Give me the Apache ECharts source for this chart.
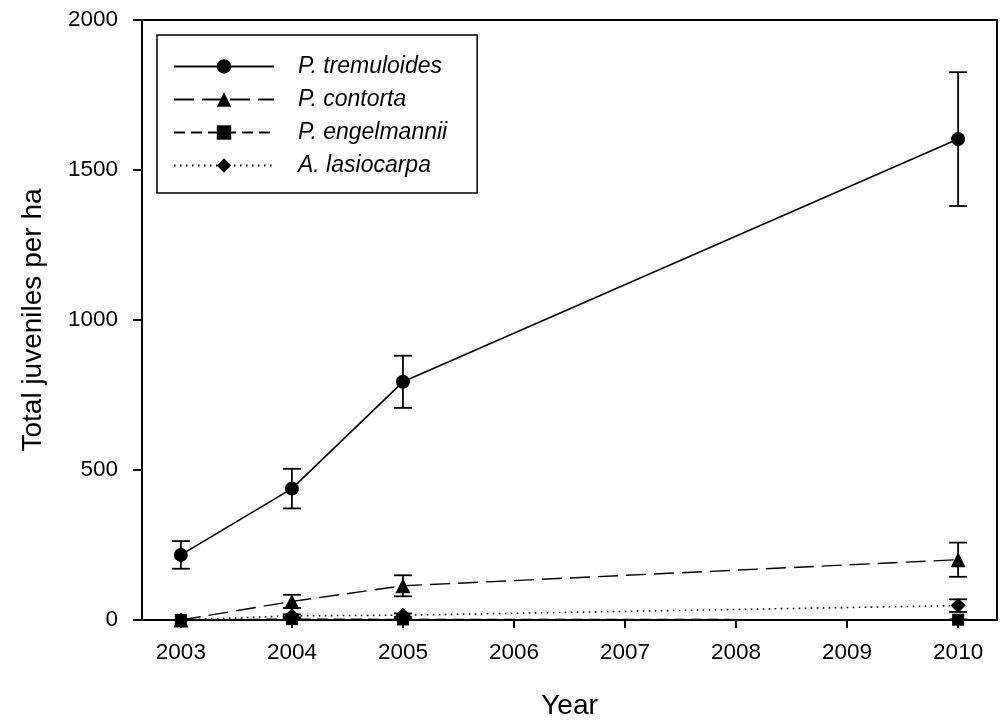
<!DOCTYPE html>
<html>
<head>
<meta charset="utf-8">
<script src="https://cdn.jsdelivr.net/npm/echarts@6/dist/echarts.min.js"></script>
<style>html,body{margin:0;padding:0;background:#fff}#c{width:1003px;height:720px}</style>
</head>
<body>
<div id="c"></div>
<script>
var years = [2003, 2004, 2005, 2010];
var xTicks = [2003, 2004, 2005, 2006, 2007, 2008, 2009, 2010];
var yTicks = [0, 500, 1000, 1500, 2000];
var speciesNames = ['P. tremuloides', 'P. contorta', 'P. engelmannii', 'A. lasiocarpa'];
var tremuloides = [217, 438, 794, 1603];
var tremuloidesErr = [46, 66, 87, 223];
var contorta = [0, 62, 114, 201];
var contortaErr = [0, 22, 35, 57];
var engelmannii = [0, 3, 2, 1];
var engelmanniiErr = [0, 2, 2, 1];
var lasiocarpa = [0, 14, 16, 48];
var lasiocarpaErr = [0, 5, 6, 21];

var FONT = '"Liberation Sans", Arial, sans-serif';
var valuesList = [tremuloides, contorta, engelmannii, lasiocarpa];
var errList = [tremuloidesErr, contortaErr, engelmanniiErr, lasiocarpaErr];
var symbols = ['circle', 'triangle', 'rect', 'diamond'];
var symbolSizes = [14, 15, 12, 15];
var lineTypes = ['solid', [20, 8], [11, 6], [1.6, 4.4]];
var lineWidths = [1.6, 1.4, 1.4, 1.6];

function errRender(params, api) {
  var x = api.value(0), lo = api.value(1), hi = api.value(2);
  if (hi - lo <= 0) return null;
  var p1 = api.coord([x, hi]), p2 = api.coord([x, lo]);
  var hw = 9;
  var st = {stroke: '#000', lineWidth: 1.8};
  return {type: 'group', children: [
    {type: 'line', shape: {x1: p1[0], y1: p1[1], x2: p2[0], y2: p2[1]}, style: st},
    {type: 'line', shape: {x1: p1[0] - hw, y1: p1[1], x2: p1[0] + hw, y2: p1[1]}, style: st},
    {type: 'line', shape: {x1: p2[0] - hw, y1: p2[1], x2: p2[0] + hw, y2: p2[1]}, style: st}
  ]};
}

var series = [];
for (var s = 0; s < 4; s++) {
  var vals = valuesList[s], errs = errList[s];
  series.push({
    name: speciesNames[s] + ' err',
    type: 'custom',
    renderItem: errRender,
    clip: true,
    z: 1,
    encode: {x: 0, y: [1, 2]},
    data: years.map(function (y, i) { return [y, vals[i] - errs[i], vals[i] + errs[i]]; }),
    silent: true
  });
}
for (var s2 = 0; s2 < 4; s2++) {
  (function (k) {
    series.push({
      name: speciesNames[k],
      type: 'line',
      z: 3,
      symbol: symbols[k],
      symbolSize: symbolSizes[k],
      showAllSymbol: true,
      itemStyle: {color: '#000'},
      lineStyle: {color: '#000', width: lineWidths[k], type: lineTypes[k]},
      data: years.map(function (y, i) { return [y, valuesList[k][i]]; })
    });
  })(s2);
}

var chart = echarts.init(document.getElementById('c'), null, {renderer: 'canvas'});
chart.setOption({
  animation: false,
  backgroundColor: '#fff',
  grid: {left: 142, right: 6, top: 20, bottom: 100, containLabel: false, outerBoundsMode: 'none', show: true, borderColor: '#000', borderWidth: 2, backgroundColor: 'transparent'},
  legend: {
    data: speciesNames,
    orient: 'vertical',
    left: 157, top: 35,
    padding: [20, 30, 16, 16],
    itemGap: 10,
    itemWidth: 100,
    itemHeight: 18,
    borderColor: '#000', borderWidth: 1.5,
    backgroundColor: '#fff',
    textStyle: {fontFamily: FONT, fontSize: 23, fontStyle: 'italic', color: '#000', padding: [0, 0, 0, 19]}
  },
  xAxis: {
    type: 'value',
    min: 2002.65, max: 2010.35,
    name: 'Year', nameLocation: 'middle', nameGap: 72,
    nameTextStyle: {fontFamily: FONT, fontSize: 28, color: '#000'},
    axisLine: {show: true, lineStyle: {color: '#000', width: 2}},
    axisTick: {show: true, inside: false, length: 8, lineStyle: {color: '#000', width: 2}, customValues: xTicks},
    axisLabel: {fontFamily: FONT, fontSize: 22.5, color: '#000', margin: 21, customValues: xTicks, formatter: function (v) { return String(v); }},
    splitLine: {show: false}
  },
  yAxis: {
    type: 'value',
    min: 0, max: 2000,
    name: 'Total juveniles per ha', nameLocation: 'middle', nameGap: 95,
    nameTextStyle: {fontFamily: FONT, fontSize: 28, color: '#000'},
    axisLine: {show: true, lineStyle: {color: '#000', width: 2}},
    axisTick: {show: true, inside: false, length: 9, lineStyle: {color: '#000', width: 2}, customValues: yTicks},
    axisLabel: {fontFamily: FONT, fontSize: 22.5, color: '#000', margin: 24, customValues: yTicks, formatter: function (v) { return String(v); }},
    splitLine: {show: false}
  },
  series: series
});
</script>
</body>
</html>
